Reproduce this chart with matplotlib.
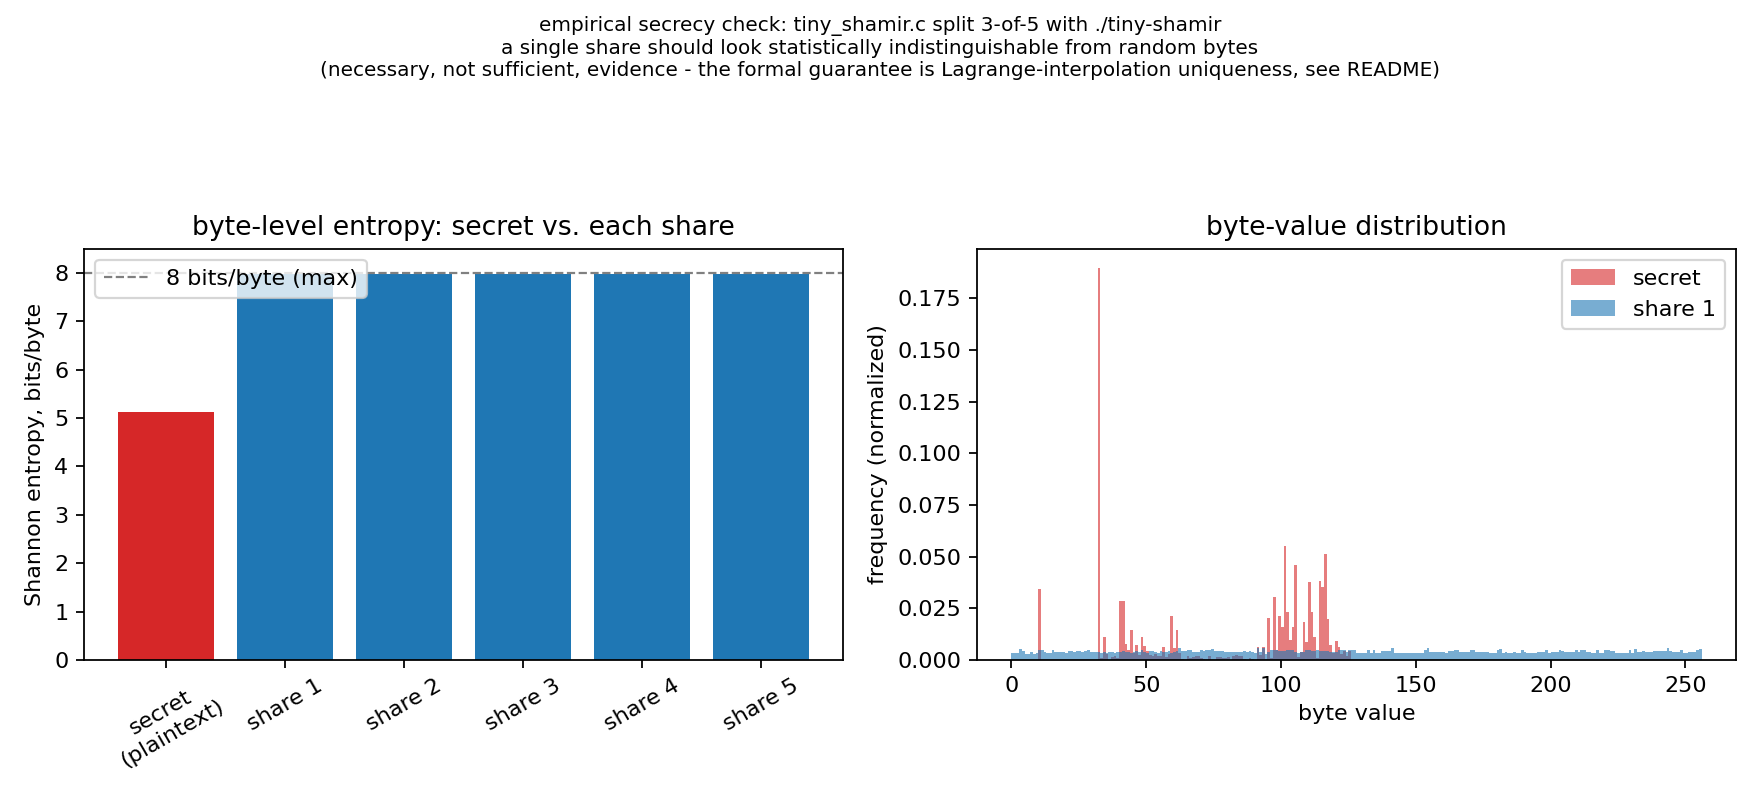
# Secrecy check: entropy bars + byte histogram

from matplotlib import pyplot as plt
import numpy as np

# Entropy per file (bits/byte)
labels = ['secret\n(plaintext)', 'share 1', 'share 2', 'share 3', 'share 4', 'share 5']
entropy = [5.13, 7.983, 7.981, 7.982, 7.980, 7.982]

# Secret byte frequencies (normalized), only the non-zero byte values
secret_bytes = [10, 32, 33, 34, 35, 37, 38, 39, 40, 41, 42, 43, 44, 45, 46, 47,
                48, 49, 50, 51, 52, 53, 54, 55, 56, 57, 58, 59, 60, 61, 62, 63,
                65, 66, 67, 68, 69, 70, 71, 73, 76, 77, 78, 79, 80, 82, 83, 84,
                85, 86, 88, 89, 91, 92, 93, 94, 95, 96, 97, 98, 99, 100, 101, 102,
                103, 104, 105, 106, 107, 108, 109, 110, 111, 112, 113, 114, 115, 116,
                117, 118, 119, 120, 121, 122, 123, 124, 125]
secret_freq = [0.0341, 0.1894, 0.0008, 0.0109, 0.0030, 0.0015, 0.0020, 0.0012,
               0.0283, 0.0283, 0.0076, 0.0047, 0.0143, 0.0035, 0.0071, 0.0025,
               0.0109, 0.0066, 0.0045, 0.0025, 0.0020, 0.0028, 0.0020, 0.0018,
               0.0061, 0.0015, 0.0030, 0.0211, 0.0056, 0.0143, 0.0035, 0.0005,
               0.0018, 0.0008, 0.0015, 0.0020, 0.0018, 0.0012, 0.0005, 0.0020,
               0.0015, 0.0015, 0.0012, 0.0010, 0.0015, 0.0018, 0.0025, 0.0020,
               0.0020, 0.0005, 0.0008, 0.0005, 0.0061, 0.0025, 0.0061, 0.0005,
               0.0201, 0.0010, 0.0307, 0.0047, 0.0211, 0.0158, 0.0553, 0.0230,
               0.0095, 0.0162, 0.0461, 0.0015, 0.0040, 0.0182, 0.0085, 0.0376,
               0.0230, 0.0109, 0.0010, 0.0380, 0.0355, 0.0515, 0.0197, 0.0071,
               0.0035, 0.0090, 0.0061, 0.0028, 0.0045, 0.0018, 0.0045]

# Share 1 byte frequencies (normalized), byte values 0..255
share1_freq = [
    .0035, .0035, .0035, .0051, .0043, .0031, .0031, .0040, .0031, .0035, .0047, .0047, .0040, .0035, .0035, .0047,
    .0040, .0040, .0040, .0040, .0035, .0043, .0043, .0040, .0043, .0043, .0040, .0043, .0047, .0040, .0040, .0040,
    .0039, .0035, .0039, .0035, .0039, .0040, .0035, .0039, .0040, .0043, .0039, .0040, .0035, .0040, .0043, .0039,
    .0047, .0040, .0035, .0043, .0043, .0040, .0035, .0043, .0040, .0039, .0043, .0035, .0040, .0043, .0059, .0043,
    .0043, .0047, .0047, .0040, .0040, .0040, .0047, .0043, .0047, .0047, .0051, .0043, .0043, .0043, .0043, .0040,
    .0040, .0040, .0040, .0040, .0040, .0040, .0043, .0040, .0043, .0040, .0032, .0056, .0040, .0056, .0028, .0040,
    .0047, .0047, .0047, .0043, .0043, .0043, .0047, .0047, .0047, .0040, .0032, .0040, .0040, .0047, .0047, .0043,
    .0043, .0047, .0043, .0043, .0043, .0043, .0040, .0040, .0040, .0047, .0047, .0047, .0040, .0047, .0047, .0047,
    .0032, .0032, .0032, .0032, .0047, .0035, .0047, .0035, .0035, .0043, .0043, .0043, .0043, .0056, .0035, .0035,
    .0035, .0035, .0035, .0035, .0035, .0032, .0032, .0035, .0035, .0047, .0056, .0040, .0040, .0040, .0040, .0040,
    .0040, .0035, .0043, .0043, .0047, .0047, .0040, .0040, .0040, .0040, .0047, .0047, .0040, .0040, .0040, .0040,
    .0040, .0035, .0035, .0035, .0047, .0051, .0032, .0039, .0032, .0032, .0040, .0035, .0035, .0047, .0040, .0032,
    .0032, .0032, .0032, .0040, .0040, .0040, .0047, .0032, .0040, .0040, .0040, .0047, .0043, .0040, .0040, .0040,
    .0040, .0047, .0040, .0047, .0047, .0040, .0040, .0035, .0035, .0047, .0035, .0035, .0047, .0047, .0043, .0043,
    .0035, .0035, .0035, .0032, .0032, .0047, .0035, .0051, .0040, .0040, .0043, .0040, .0040, .0040, .0043, .0043,
    .0043, .0043, .0043, .0056, .0043, .0040, .0040, .0040, .0047, .0035, .0035, .0040, .0040, .0040, .0047, .0051,
]

byte_values = np.arange(256)
secret_hist = np.zeros(256)
secret_hist[secret_bytes] = secret_freq

fig, (ax1, ax2) = plt.subplots(1, 2, figsize=(11, 5), dpi=160)
fig.subplots_adjust(left=0.0477, right=0.9864, bottom=0.175, top=0.689, wspace=0.176)

fig.suptitle('empirical secrecy check: tiny_shamir.c split 3-of-5 with ./tiny-shamir\n'
             'a single share should look statistically indistinguishable from random bytes\n'
             '(necessary, not sufficient, evidence - the formal guarantee is '
             'Lagrange-interpolation uniqueness, see README)', fontsize=9)

# Left: entropy bars
colors = ['tab:red'] + ['tab:blue'] * 5
x = np.arange(len(labels))
ax1.bar(x, entropy, color=colors)
ax1.axhline(8, color='gray', linestyle='--', linewidth=1, label='8 bits/byte (max)')
ax1.set_xticks(x)
ax1.set_xticklabels(labels, rotation=30)
ax1.set_ylim(0, 8.5)
ax1.set_ylabel('Shannon entropy, bits/byte')
ax1.set_title('byte-level entropy: secret vs. each share')
ax1.legend(loc='upper left')

# Right: byte histograms
ax2.bar(byte_values, secret_hist, width=1.0, align='edge', color='tab:red', alpha=0.6, label='secret')
ax2.bar(byte_values, share1_freq, width=1.0, align='edge', color='tab:blue', alpha=0.6, label='share 1')
ax2.set_xlabel('byte value')
ax2.set_ylabel('frequency (normalized)')
ax2.set_title('byte-value distribution')
ax2.legend(loc='upper right')

plt.savefig('out.png')
